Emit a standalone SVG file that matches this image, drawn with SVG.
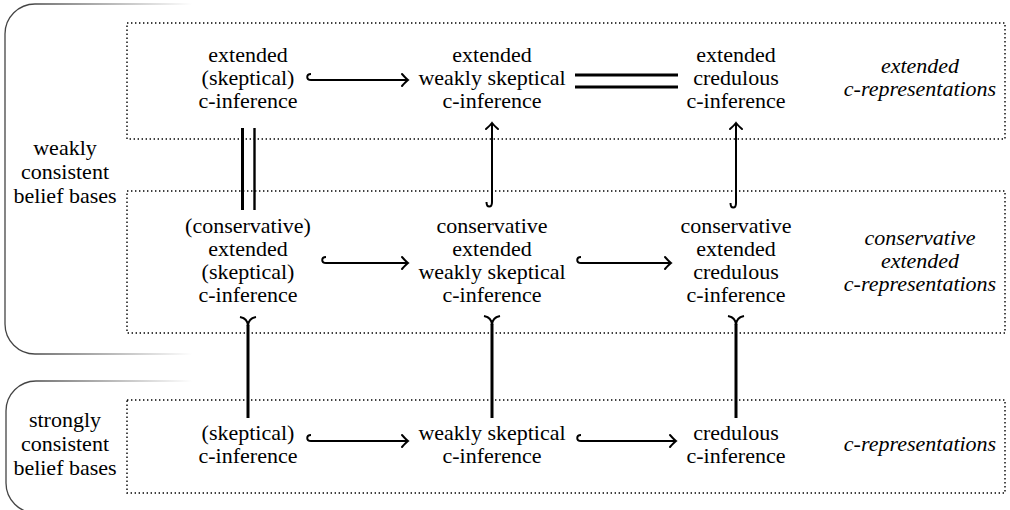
<svg xmlns="http://www.w3.org/2000/svg" width="1010" height="510" viewBox="0 0 1010 510">
<defs>
<linearGradient id="fade" gradientUnits="userSpaceOnUse" x1="0" y1="0" x2="192" y2="0">
<stop offset="0.15" stop-color="#444"/>
<stop offset="1" stop-color="#fff"/>
</linearGradient>
<marker id="head" viewBox="-8 -8 10 16" refX="0" refY="0" markerWidth="10" markerHeight="16" markerUnits="userSpaceOnUse" orient="auto" overflow="visible">
<path d="M -6,-6 Q -2,-1.5 0,0 Q -2,1.5 -6,6" fill="none" stroke="#000" stroke-width="2" stroke-linecap="round"/>
</marker>
<style>
text{font-family:"Times New Roman","Liberation Serif",Tinos,"Noto Serif","DejaVu Serif",FreeSerif,Times,serif;font-size:22px;fill:#000;text-anchor:middle}
.it{font-style:italic}
.box{fill:none;stroke:#000;stroke-width:1.4;stroke-dasharray:1.4 2.6}
.brk{fill:none;stroke:url(#fade);stroke-width:1.3}
.arr{fill:none;stroke:#000;stroke-width:2;marker-end:url(#head)}
.dbl{fill:none;stroke:#000;stroke-width:3}
.tail{fill:none;stroke:#000;stroke-width:3}
.fork{fill:none;stroke:#000;stroke-width:2.2}
</style>
</defs>
<rect width="1010" height="510" fill="#fff"/>

<g id="bracket-weak">
<path class="brk" d="M 192,4 L 35,4 A 30,30 0 0 0 5,34 L 5,324 A 30,30 0 0 0 35,354 L 192,354"/>
<text x="65" y="155">weakly</text>
<text x="65" y="179">consistent</text>
<text x="65" y="203">belief bases</text>
</g>
<g id="bracket-strong">
<path class="brk" d="M 192,381 L 36,381 A 30,30 0 0 0 6,411 L 6,483 A 30,30 0 0 0 36,513 L 192,513"/>
<text x="65" y="427">strongly</text>
<text x="65" y="451">consistent</text>
<text x="65" y="475">belief bases</text>
</g>

<g id="box-extended"><rect class="box" x="127" y="23" width="878" height="116"/></g>
<g id="box-conservative"><rect class="box" x="127" y="191" width="878" height="142"/></g>
<g id="box-plain"><rect class="box" x="127" y="400" width="878" height="93"/></g>

<g id="n-ext-skep">
<text x="248" y="62">extended</text>
<text x="248" y="85">(skeptical)</text>
<text x="248" y="108">c-inference</text>
</g>
<g id="n-ext-weak">
<text x="492" y="62">extended</text>
<text x="492" y="85">weakly skeptical</text>
<text x="492" y="108">c-inference</text>
</g>
<g id="n-ext-cred">
<text x="736" y="62">extended</text>
<text x="736" y="85">credulous</text>
<text x="736" y="108">c-inference</text>
</g>
<g id="n-ext-rep">
<text class="it" x="920" y="73">extended</text>
<text class="it" x="920" y="96">c-representations</text>
</g>

<g id="n-cons-skep">
<text x="248" y="233">(conservative)</text>
<text x="248" y="256">extended</text>
<text x="248" y="279">(skeptical)</text>
<text x="248" y="302">c-inference</text>
</g>
<g id="n-cons-weak">
<text x="492" y="233">conservative</text>
<text x="492" y="256">extended</text>
<text x="492" y="279">weakly skeptical</text>
<text x="492" y="302">c-inference</text>
</g>
<g id="n-cons-cred">
<text x="736" y="233">conservative</text>
<text x="736" y="256">extended</text>
<text x="736" y="279">credulous</text>
<text x="736" y="302">c-inference</text>
</g>
<g id="n-cons-rep">
<text class="it" x="920" y="245">conservative</text>
<text class="it" x="920" y="268">extended</text>
<text class="it" x="920" y="291">c-representations</text>
</g>

<g id="n-skep">
<text x="248" y="440">(skeptical)</text>
<text x="248" y="463">c-inference</text>
</g>
<g id="n-weak">
<text x="492" y="440">weakly skeptical</text>
<text x="492" y="463">c-inference</text>
</g>
<g id="n-cred">
<text x="736" y="440">credulous</text>
<text x="736" y="463">c-inference</text>
</g>
<g id="n-rep">
<text class="it" x="920" y="451">c-representations</text>
</g>

<g id="connectors">
<path class="arr" d="M 311,74 C 306,74 306,80 311,80 L 408,80"/>
<path class="dbl" d="M 575,75 L 678,75 M 575,87 L 678,87"/>
<path class="arr" d="M 326,257 C 321,257 321,263 326,263 L 408,263"/>
<path class="arr" d="M 581,257 C 576,257 576,263 581,263 L 671,263"/>
<path class="arr" d="M 311,435 C 306,435 306,441 311,441 L 408,441"/>
<path class="arr" d="M 581,435 C 576,435 576,441 581,441 L 676,441"/>
<path class="dbl" d="M 242.5,128 L 242.5,210"/>
<path class="dbl" d="M 254.5,128 L 254.5,210" style="stroke-width:2.4"/>
<path class="arr" d="M 486.5,202 C 486.5,208 492,208 492,202 L 492,123"/>
<path class="arr" d="M 730.5,203 C 730.5,209 736,209 736,203 L 736,123"/>
<path class="fork" d="M 240,317 C 245,318 248,320 248,326 M 256,317 C 251,318 248,320 248,326"/>
<path class="tail" d="M 248,325 L 248,418"/>
<path class="fork" d="M 484,316 C 489,317 492,319 492,325 M 500,316 C 495,317 492,319 492,325"/>
<path class="tail" d="M 492,324 L 492,418"/>
<path class="fork" d="M 728,316 C 733,317 736,319 736,325 M 744,316 C 739,317 736,319 736,325"/>
<path class="tail" d="M 736,324 L 736,418"/>
</g>
</svg>
